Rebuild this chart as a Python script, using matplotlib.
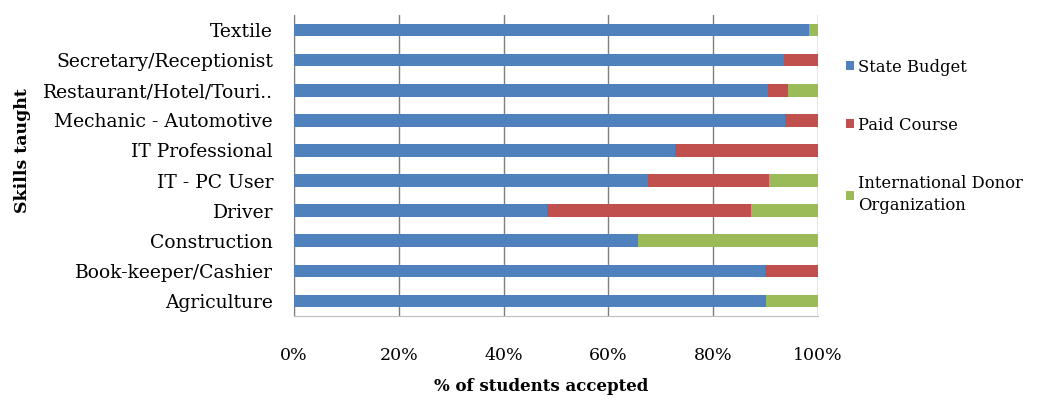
import numpy as np
import matplotlib
matplotlib.use("Agg")
import matplotlib.pyplot as plt

plt.rcParams['font.family'] = ['DejaVu Serif']

skills = ["Textile", "Secretary/Receptionist", "Restaurant/Hotel/Touri..",
          "Mechanic - Automotive", "IT Professional", "IT - PC User", "Driver",
          "Construction", "Book-keeper/Cashier", "Agriculture"]
state_budget = [98.2, 93.5, 90.5, 93.7, 72.7, 67.6, 48.2, 65.6, 89.8, 90.0]
paid_course = [0.0, 6.5, 3.8, 6.3, 27.3, 23.1, 39.1, 0.0, 10.2, 0.0]
donor_org = [1.8, 0.0, 5.7, 0.0, 0.0, 9.3, 12.7, 34.4, 0.0, 10.0]

colors = ['#4F81BD', '#C0504D', '#9BBB59']

fig = plt.figure(figsize=(10.46, 4), dpi=100)
ax = fig.add_axes([0.281, 0.21, 0.501, 0.7525])

y = np.arange(len(skills))[::-1]
sb = np.array(state_budget)
pc = np.array(paid_course)
dn = np.array(donor_org)

ax.barh(y, sb, height=0.42, color=colors[0], label="State Budget", zorder=3)
ax.barh(y, pc, left=sb, height=0.42, color=colors[1], label="Paid Course", zorder=3)
ax.barh(y, dn, left=sb + pc, height=0.42, color=colors[2],
        label="International Donor\nOrganization", zorder=3)

ax.set_xlim(0, 100)
ax.set_ylim(-0.5, len(skills) - 0.5)
ax.set_xticks(np.arange(0, 101, 20))
ax.set_xticklabels([f"{v}%" for v in range(0, 101, 20)], fontsize=12.5)
ax.set_yticks(y)
ax.set_yticklabels(skills, fontsize=13.5)
ax.tick_params(axis='y', length=0, pad=15)
ax.tick_params(axis='x', length=0, pad=22)

ax.grid(axis='x', color='#7f7f7f', linewidth=1, zorder=0)
for s in ['top', 'right']:
    ax.spines[s].set_visible(False)
ax.spines['left'].set_color('#7f7f7f')
ax.spines['bottom'].set_color('#bfbfbf')

ax.set_xlabel("% of students accepted", fontsize=12, fontweight='bold')
ax.xaxis.set_label_coords(0.472, -0.205)
ax.set_ylabel("Skills taught", fontsize=12.5, fontweight='bold')
ax.yaxis.set_label_coords(-0.502, 0.55)

leg = ax.legend(loc='upper left', bbox_to_anchor=(1.053, 0.855), frameon=False,
                fontsize=11.8, handlelength=0.5, handleheight=0.5, handletextpad=0.25,
                labelspacing=2.5, borderaxespad=0, borderpad=0)
for t in leg.get_texts():
    t.set_linespacing(1.45)

fig.savefig("out.png", dpi=100)
